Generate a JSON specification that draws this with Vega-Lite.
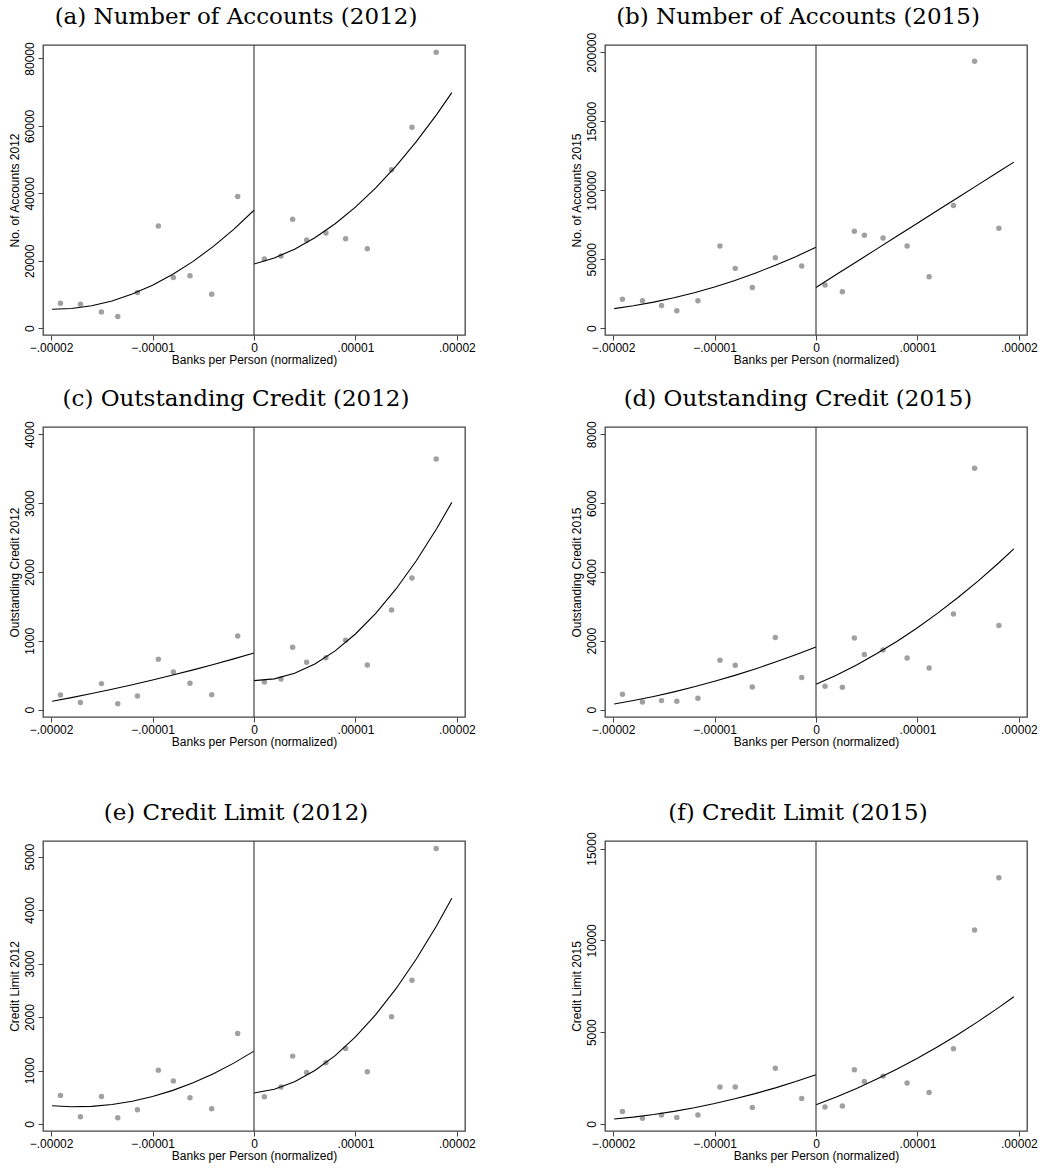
{
  "$schema": "https://vega.github.io/schema/vega-lite/v6.json",
  "background": "white",
  "padding": {"left": 7, "top": 5, "right": 5, "bottom": 5},
  "datasets": {
    "pts": [
      {"p":"a","x":-0.00001908,"y":7435},{"p":"a","x":-0.00001711,"y":7137},{"p":"a","x":-0.00001504,"y":4857},{"p":"a","x":-0.00001343,"y":3470},{"p":"a","x":-0.00001149,"y":10607},{"p":"a","x":-0.00000943,"y":30334},{"p":"a","x":-0.00000795,"y":15068},{"p":"a","x":-0.00000631,"y":15564},{"p":"a","x":-0.00000417,"y":10111},{"p":"a","x":-0.00000161,"y":39058},{"p":"a","x":0.00000102,"y":20520},{"p":"a","x":0.00000266,"y":21412},{"p":"a","x":0.00000381,"y":32317},{"p":"a","x":0.00000519,"y":26170},{"p":"a","x":0.00000709,"y":28252},{"p":"a","x":0.00000903,"y":26567},{"p":"a","x":0.00001117,"y":23593},{"p":"a","x":0.00001356,"y":46988},{"p":"a","x":0.00001557,"y":59578},{"p":"a","x":0.00001796,"y":81883},
      {"p":"b","x":-0.00001908,"y":21091},{"p":"b","x":-0.00001711,"y":19879},{"p":"b","x":-0.00001523,"y":16484},{"p":"b","x":-0.00001372,"y":12606},{"p":"b","x":-0.00001164,"y":19879},{"p":"b","x":-0.00000947,"y":59634},{"p":"b","x":-0.00000796,"y":43393},{"p":"b","x":-0.00000628,"y":29575},{"p":"b","x":-0.00000401,"y":51150},{"p":"b","x":-0.00000141,"y":45090},{"p":"b","x":0.00000089,"y":31272},{"p":"b","x":0.0000026,"y":26424},{"p":"b","x":0.00000378,"y":70301},{"p":"b","x":0.00000477,"y":67392},{"p":"b","x":0.00000661,"y":65454},{"p":"b","x":0.00000898,"y":59634},{"p":"b","x":0.00001115,"y":37333},{"p":"b","x":0.00001355,"y":88968},{"p":"b","x":0.00001563,"y":193448},{"p":"b","x":0.00001803,"y":72483},
      {"p":"c","x":-0.00001908,"y":213},{"p":"c","x":-0.00001711,"y":102},{"p":"c","x":-0.00001504,"y":378},{"p":"c","x":-0.00001343,"y":87},{"p":"c","x":-0.00001149,"y":199},{"p":"c","x":-0.00000943,"y":731},{"p":"c","x":-0.00000795,"y":547},{"p":"c","x":-0.00000631,"y":383},{"p":"c","x":-0.00000417,"y":218},{"p":"c","x":-0.00000161,"y":1070},{"p":"c","x":0.00000102,"y":402},{"p":"c","x":0.00000266,"y":446},{"p":"c","x":0.00000381,"y":906},{"p":"c","x":0.00000519,"y":688},{"p":"c","x":0.00000709,"y":755},{"p":"c","x":0.00000903,"y":1007},{"p":"c","x":0.00001117,"y":649},{"p":"c","x":0.00001356,"y":1448},{"p":"c","x":0.00001557,"y":1913},{"p":"c","x":0.00001796,"y":3642},
      {"p":"d","x":-0.00001908,"y":446},{"p":"d","x":-0.00001711,"y":223},{"p":"d","x":-0.00001523,"y":261},{"p":"d","x":-0.00001372,"y":242},{"p":"d","x":-0.00001164,"y":329},{"p":"d","x":-0.00000947,"y":1433},{"p":"d","x":-0.00000796,"y":1288},{"p":"d","x":-0.00000628,"y":659},{"p":"d","x":-0.00000401,"y":2092},{"p":"d","x":-0.00000141,"y":930},{"p":"d","x":0.00000089,"y":678},{"p":"d","x":0.0000026,"y":649},{"p":"d","x":0.00000378,"y":2082},{"p":"d","x":0.00000477,"y":1598},{"p":"d","x":0.00000661,"y":1734},{"p":"d","x":0.00000898,"y":1501},{"p":"d","x":0.00001115,"y":1211},{"p":"d","x":0.00001355,"y":2780},{"p":"d","x":0.00001563,"y":7012},{"p":"d","x":0.00001803,"y":2441},
      {"p":"e","x":-0.00001908,"y":535},{"p":"e","x":-0.00001711,"y":137},{"p":"e","x":-0.00001504,"y":516},{"p":"e","x":-0.00001343,"y":118},{"p":"e","x":-0.00001149,"y":267},{"p":"e","x":-0.00000943,"y":1007},{"p":"e","x":-0.00000795,"y":802},{"p":"e","x":-0.00000631,"y":491},{"p":"e","x":-0.00000417,"y":286},{"p":"e","x":-0.00000161,"y":1692},{"p":"e","x":0.00000102,"y":510},{"p":"e","x":0.00000266,"y":690},{"p":"e","x":0.00000381,"y":1269},{"p":"e","x":0.00000519,"y":964},{"p":"e","x":0.00000709,"y":1144},{"p":"e","x":0.00000903,"y":1412},{"p":"e","x":0.00001117,"y":976},{"p":"e","x":0.00001356,"y":2003},{"p":"e","x":0.00001557,"y":2687},{"p":"e","x":0.00001796,"y":5149},
      {"p":"f","x":-0.00001908,"y":688},{"p":"f","x":-0.00001711,"y":308},{"p":"f","x":-0.00001523,"y":489},{"p":"f","x":-0.00001372,"y":362},{"p":"f","x":-0.00001164,"y":489},{"p":"f","x":-0.00000947,"y":2011},{"p":"f","x":-0.00000796,"y":2011},{"p":"f","x":-0.00000628,"y":906},{"p":"f","x":-0.00000401,"y":3043},{"p":"f","x":-0.00000141,"y":1395},{"p":"f","x":0.00000089,"y":924},{"p":"f","x":0.0000026,"y":978},{"p":"f","x":0.00000378,"y":2953},{"p":"f","x":0.00000477,"y":2319},{"p":"f","x":0.00000661,"y":2609},{"p":"f","x":0.00000898,"y":2228},{"p":"f","x":0.00001115,"y":1721},{"p":"f","x":0.00001355,"y":4094},{"p":"f","x":0.00001563,"y":10562},{"p":"f","x":0.00001803,"y":13406}
    ],
    "fit": [
      {"p":"a","s":"L","x":-0.0000199,"y":5646},{"p":"a","s":"L","x":-0.000018,"y":5862},{"p":"a","s":"L","x":-0.000016,"y":6679},{"p":"a","s":"L","x":-0.000014,"y":8101},{"p":"a","s":"L","x":-0.000012,"y":10128},{"p":"a","s":"L","x":-0.00001,"y":12761},{"p":"a","s":"L","x":-0.000008,"y":15999},{"p":"a","s":"L","x":-0.000006,"y":19841},{"p":"a","s":"L","x":-0.000004,"y":24289},{"p":"a","s":"L","x":-0.000002,"y":29342},{"p":"a","s":"L","x":0,"y":35000},
      {"p":"a","s":"R","x":0,"y":19033},{"p":"a","s":"R","x":0.000002,"y":20858},{"p":"a","s":"R","x":0.000004,"y":23457},{"p":"a","s":"R","x":0.000006,"y":26833},{"p":"a","s":"R","x":0.000008,"y":30982},{"p":"a","s":"R","x":0.00001,"y":35907},{"p":"a","s":"R","x":0.000012,"y":41607},{"p":"a","s":"R","x":0.000014,"y":48081},{"p":"a","s":"R","x":0.000016,"y":55332},{"p":"a","s":"R","x":0.000018,"y":63357},{"p":"a","s":"R","x":0.0000195,"y":69885},
      {"p":"b","s":"L","x":-0.0000199,"y":14245},{"p":"b","s":"L","x":-0.000018,"y":16278},{"p":"b","s":"L","x":-0.000016,"y":18924},{"p":"b","s":"L","x":-0.000014,"y":22084},{"p":"b","s":"L","x":-0.000012,"y":25761},{"p":"b","s":"L","x":-0.00001,"y":29954},{"p":"b","s":"L","x":-0.000008,"y":34663},{"p":"b","s":"L","x":-0.000006,"y":39888},{"p":"b","s":"L","x":-0.000004,"y":45629},{"p":"b","s":"L","x":-0.000002,"y":51887},{"p":"b","s":"L","x":0,"y":58660},
      {"p":"b","s":"R","x":0,"y":29573},{"p":"b","s":"R","x":0.000002,"y":38888},{"p":"b","s":"R","x":0.000004,"y":48202},{"p":"b","s":"R","x":0.000006,"y":57517},{"p":"b","s":"R","x":0.000008,"y":66831},{"p":"b","s":"R","x":0.00001,"y":76146},{"p":"b","s":"R","x":0.000012,"y":85461},{"p":"b","s":"R","x":0.000014,"y":94775},{"p":"b","s":"R","x":0.000016,"y":104090},{"p":"b","s":"R","x":0.000018,"y":113404},{"p":"b","s":"R","x":0.0000195,"y":120390},
      {"p":"c","s":"L","x":-0.0000199,"y":121.7},{"p":"c","s":"L","x":-0.000018,"y":174.6},{"p":"c","s":"L","x":-0.000016,"y":233.5},{"p":"c","s":"L","x":-0.000014,"y":295.6},{"p":"c","s":"L","x":-0.000012,"y":361},{"p":"c","s":"L","x":-0.00001,"y":429.8},{"p":"c","s":"L","x":-0.000008,"y":501.9},{"p":"c","s":"L","x":-0.000006,"y":577.2},{"p":"c","s":"L","x":-0.000004,"y":655.8},{"p":"c","s":"L","x":-0.000002,"y":737.7},{"p":"c","s":"L","x":0,"y":823},
      {"p":"c","s":"R","x":0,"y":421},{"p":"c","s":"R","x":0.000002,"y":447},{"p":"c","s":"R","x":0.000004,"y":527.8},{"p":"c","s":"R","x":0.000006,"y":663.2},{"p":"c","s":"R","x":0.000008,"y":853.6},{"p":"c","s":"R","x":0.00001,"y":1098.7},{"p":"c","s":"R","x":0.000012,"y":1398.6},{"p":"c","s":"R","x":0.000014,"y":1753.3},{"p":"c","s":"R","x":0.000016,"y":2162.7},{"p":"c","s":"R","x":0.000018,"y":2627},{"p":"c","s":"R","x":0.0000195,"y":3011},
      {"p":"d","s":"L","x":-0.0000199,"y":161.6},{"p":"d","s":"L","x":-0.000018,"y":262.7},{"p":"d","s":"L","x":-0.000016,"y":382.3},{"p":"d","s":"L","x":-0.000014,"y":515.1},{"p":"d","s":"L","x":-0.000012,"y":661.4},{"p":"d","s":"L","x":-0.00001,"y":821.2},{"p":"d","s":"L","x":-0.000008,"y":994.4},{"p":"d","s":"L","x":-0.000006,"y":1180.9},{"p":"d","s":"L","x":-0.000004,"y":1380.8},{"p":"d","s":"L","x":-0.000002,"y":1594.2},{"p":"d","s":"L","x":0,"y":1821},
      {"p":"d","s":"R","x":0,"y":736},{"p":"d","s":"R","x":0.000002,"y":1001.7},{"p":"d","s":"R","x":0.000004,"y":1298.8},{"p":"d","s":"R","x":0.000006,"y":1627.5},{"p":"d","s":"R","x":0.000008,"y":1987.5},{"p":"d","s":"R","x":0.00001,"y":2379.1},{"p":"d","s":"R","x":0.000012,"y":2802.2},{"p":"d","s":"R","x":0.000014,"y":3256.6},{"p":"d","s":"R","x":0.000016,"y":3742.5},{"p":"d","s":"R","x":0.000018,"y":4259.9},{"p":"d","s":"R","x":0.0000195,"y":4668.6},
      {"p":"e","s":"L","x":-0.0000199,"y":342.4},{"p":"e","s":"L","x":-0.000018,"y":323.6},{"p":"e","s":"L","x":-0.000016,"y":330.3},{"p":"e","s":"L","x":-0.000014,"y":364.2},{"p":"e","s":"L","x":-0.000012,"y":425.3},{"p":"e","s":"L","x":-0.00001,"y":513.5},{"p":"e","s":"L","x":-0.000008,"y":628.9},{"p":"e","s":"L","x":-0.000006,"y":771.4},{"p":"e","s":"L","x":-0.000004,"y":941.1},{"p":"e","s":"L","x":-0.000002,"y":1138},{"p":"e","s":"L","x":0,"y":1362},
      {"p":"e","s":"R","x":0,"y":578},{"p":"e","s":"R","x":0.000002,"y":649.9},{"p":"e","s":"R","x":0.000004,"y":790.7},{"p":"e","s":"R","x":0.000006,"y":1000.5},{"p":"e","s":"R","x":0.000008,"y":1279.3},{"p":"e","s":"R","x":0.00001,"y":1627},{"p":"e","s":"R","x":0.000012,"y":2043.7},{"p":"e","s":"R","x":0.000014,"y":2529.3},{"p":"e","s":"R","x":0.000016,"y":3083.9},{"p":"e","s":"R","x":0.000018,"y":3707.5},{"p":"e","s":"R","x":0.0000195,"y":4220.4},
      {"p":"f","s":"L","x":-0.0000199,"y":270},{"p":"f","s":"L","x":-0.000018,"y":378.1},{"p":"f","s":"L","x":-0.000016,"y":519.7},{"p":"f","s":"L","x":-0.000014,"y":689.9},{"p":"f","s":"L","x":-0.000012,"y":888.7},{"p":"f","s":"L","x":-0.00001,"y":1116},{"p":"f","s":"L","x":-0.000008,"y":1371.9},{"p":"f","s":"L","x":-0.000006,"y":1656.3},{"p":"f","s":"L","x":-0.000004,"y":1969.3},{"p":"f","s":"L","x":-0.000002,"y":2310.9},{"p":"f","s":"L","x":0,"y":2681},
      {"p":"f","s":"R","x":0,"y":1051},{"p":"f","s":"R","x":0.000002,"y":1475.4},{"p":"f","s":"R","x":0.000004,"y":1940.6},{"p":"f","s":"R","x":0.000006,"y":2446.6},{"p":"f","s":"R","x":0.000008,"y":2993.4},{"p":"f","s":"R","x":0.00001,"y":3581},{"p":"f","s":"R","x":0.000012,"y":4209.4},{"p":"f","s":"R","x":0.000014,"y":4878.6},{"p":"f","s":"R","x":0.000016,"y":5588.6},{"p":"f","s":"R","x":0.000018,"y":6339.4},{"p":"f","s":"R","x":0.0000195,"y":6929.3}
    ],
    "zero": [{"x": 0}]
  },
  "spacing": 53,
  "vconcat": [
    {
      "spacing": 21,
      "vconcat": [
        {
          "bounds": "flush",
          "spacing": 140,
          "hconcat": [
            {
              "width": 422, "height": 290,
              "title": {"text": "(a) Number of Accounts (2012)", "offset": 12.5},
              "layer": [
                {"data": {"name": "pts"}, "transform": [{"filter": "datum.p == 'a'"}], "mark": {"type": "circle", "size": 30, "color": "#a0a0a0", "opacity": 1},
                 "encoding": {
                   "x": {"field": "x", "type": "quantitative", "scale": {"domain": [-0.0000208, 0.0000208], "nice": false, "zero": false}, "axis": {"title": "Banks per Person (normalized)", "values": [-0.00002, -0.00001, 0, 0.00001, 0.00002], "labelExpr": "datum.value == 0 ? '0' : replace(format(datum.value, '.5f'), '0.', '.')"}},
                   "y": {"field": "y", "type": "quantitative", "scale": {"domain": [-2000, 84000], "nice": false, "zero": false}, "axis": {"title": "No. of Accounts 2012", "values": [0, 20000, 40000, 60000, 80000], "format": "d"}}
                 }},
                {"data": {"name": "fit"}, "transform": [{"filter": "datum.p == 'a'"}], "mark": {"type": "line", "color": "#000", "strokeWidth": 1.1},
                 "encoding": {"x": {"field": "x", "type": "quantitative"}, "y": {"field": "y", "type": "quantitative"}, "detail": {"field": "s"}}},
                {"data": {"name": "zero"}, "mark": {"type": "rule", "color": "#333", "strokeWidth": 1.1}, "encoding": {"x": {"field": "x", "type": "quantitative"}}}
              ]
            },
            {
              "width": 422, "height": 290,
              "title": {"text": "(b) Number of Accounts (2015)", "offset": 3.5},
              "layer": [
                {"data": {"name": "pts"}, "transform": [{"filter": "datum.p == 'b'"}], "mark": {"type": "circle", "size": 30, "color": "#a0a0a0", "opacity": 1},
                 "encoding": {
                   "x": {"field": "x", "type": "quantitative", "scale": {"domain": [-0.0000208, 0.0000208], "nice": false, "zero": false}, "axis": {"title": "Banks per Person (normalized)", "values": [-0.00002, -0.00001, 0, 0.00001, 0.00002], "labelExpr": "datum.value == 0 ? '0' : replace(format(datum.value, '.5f'), '0.', '.')"}},
                   "y": {"field": "y", "type": "quantitative", "scale": {"domain": [-4900, 205300], "nice": false, "zero": false}, "axis": {"title": "No. of Accounts 2015", "values": [0, 50000, 100000, 150000, 200000], "format": "d"}}
                 }},
                {"data": {"name": "fit"}, "transform": [{"filter": "datum.p == 'b'"}], "mark": {"type": "line", "color": "#000", "strokeWidth": 1.1},
                 "encoding": {"x": {"field": "x", "type": "quantitative"}, "y": {"field": "y", "type": "quantitative"}, "detail": {"field": "s"}}},
                {"data": {"name": "zero"}, "mark": {"type": "rule", "color": "#333", "strokeWidth": 1.1}, "encoding": {"x": {"field": "x", "type": "quantitative"}}}
              ]
            }
          ]
        },
        {
          "bounds": "flush",
          "spacing": 140,
          "hconcat": [
            {
              "width": 422, "height": 290,
              "title": {"text": "(c) Outstanding Credit (2012)", "offset": 9.7},
              "layer": [
                {"data": {"name": "pts"}, "transform": [{"filter": "datum.p == 'c'"}], "mark": {"type": "circle", "size": 30, "color": "#a0a0a0", "opacity": 1},
                 "encoding": {
                   "x": {"field": "x", "type": "quantitative", "scale": {"domain": [-0.0000208, 0.0000208], "nice": false, "zero": false}, "axis": {"title": "Banks per Person (normalized)", "values": [-0.00002, -0.00001, 0, 0.00001, 0.00002], "labelExpr": "datum.value == 0 ? '0' : replace(format(datum.value, '.5f'), '0.', '.')"}},
                   "y": {"field": "y", "type": "quantitative", "scale": {"domain": [-107, 4106], "nice": false, "zero": false}, "axis": {"title": "Outstanding Credit 2012", "values": [0, 1000, 2000, 3000, 4000], "format": "d"}}
                 }},
                {"data": {"name": "fit"}, "transform": [{"filter": "datum.p == 'c'"}], "mark": {"type": "line", "color": "#000", "strokeWidth": 1.1},
                 "encoding": {"x": {"field": "x", "type": "quantitative"}, "y": {"field": "y", "type": "quantitative"}, "detail": {"field": "s"}}},
                {"data": {"name": "zero"}, "mark": {"type": "rule", "color": "#333", "strokeWidth": 1.1}, "encoding": {"x": {"field": "x", "type": "quantitative"}}}
              ]
            },
            {
              "width": 422, "height": 290,
              "title": {"text": "(d) Outstanding Credit (2015)", "offset": 9.7},
              "layer": [
                {"data": {"name": "pts"}, "transform": [{"filter": "datum.p == 'd'"}], "mark": {"type": "circle", "size": 30, "color": "#a0a0a0", "opacity": 1},
                 "encoding": {
                   "x": {"field": "x", "type": "quantitative", "scale": {"domain": [-0.0000208, 0.0000208], "nice": false, "zero": false}, "axis": {"title": "Banks per Person (normalized)", "values": [-0.00002, -0.00001, 0, 0.00001, 0.00002], "labelExpr": "datum.value == 0 ? '0' : replace(format(datum.value, '.5f'), '0.', '.')"}},
                   "y": {"field": "y", "type": "quantitative", "scale": {"domain": [-215, 8212], "nice": false, "zero": false}, "axis": {"title": "Outstanding Credit 2015", "values": [0, 2000, 4000, 6000, 8000], "format": "d"}}
                 }},
                {"data": {"name": "fit"}, "transform": [{"filter": "datum.p == 'd'"}], "mark": {"type": "line", "color": "#000", "strokeWidth": 1.1},
                 "encoding": {"x": {"field": "x", "type": "quantitative"}, "y": {"field": "y", "type": "quantitative"}, "detail": {"field": "s"}}},
                {"data": {"name": "zero"}, "mark": {"type": "rule", "color": "#333", "strokeWidth": 1.1}, "encoding": {"x": {"field": "x", "type": "quantitative"}}}
              ]
            }
          ]
        }
      ]
    },
    {
      "bounds": "flush",
      "spacing": 140,
      "hconcat": [
        {
          "width": 422, "height": 290,
          "title": {"text": "(e) Credit Limit (2012)", "offset": 15.7},
          "layer": [
            {"data": {"name": "pts"}, "transform": [{"filter": "datum.p == 'e'"}], "mark": {"type": "circle", "size": 30, "color": "#a0a0a0", "opacity": 1},
             "encoding": {
               "x": {"field": "x", "type": "quantitative", "scale": {"domain": [-0.0000208, 0.0000208], "nice": false, "zero": false}, "axis": {"title": "Banks per Person (normalized)", "values": [-0.00002, -0.00001, 0, 0.00001, 0.00002], "labelExpr": "datum.value == 0 ? '0' : replace(format(datum.value, '.5f'), '0.', '.')"}},
               "y": {"field": "y", "type": "quantitative", "scale": {"domain": [-131, 5291], "nice": false, "zero": false}, "axis": {"title": "Credit Limit 2012", "values": [0, 1000, 2000, 3000, 4000, 5000], "format": "d"}}
             }},
            {"data": {"name": "fit"}, "transform": [{"filter": "datum.p == 'e'"}], "mark": {"type": "line", "color": "#000", "strokeWidth": 1.1},
             "encoding": {"x": {"field": "x", "type": "quantitative"}, "y": {"field": "y", "type": "quantitative"}, "detail": {"field": "s"}}},
            {"data": {"name": "zero"}, "mark": {"type": "rule", "color": "#333", "strokeWidth": 1.1}, "encoding": {"x": {"field": "x", "type": "quantitative"}}}
          ]
        },
        {
          "width": 422, "height": 290,
          "title": {"text": "(f) Credit Limit (2015)", "offset": 6.6},
          "layer": [
            {"data": {"name": "pts"}, "transform": [{"filter": "datum.p == 'f'"}], "mark": {"type": "circle", "size": 30, "color": "#a0a0a0", "opacity": 1},
             "encoding": {
               "x": {"field": "x", "type": "quantitative", "scale": {"domain": [-0.0000208, 0.0000208], "nice": false, "zero": false}, "axis": {"title": "Banks per Person (normalized)", "values": [-0.00002, -0.00001, 0, 0.00001, 0.00002], "labelExpr": "datum.value == 0 ? '0' : replace(format(datum.value, '.5f'), '0.', '.')"}},
               "y": {"field": "y", "type": "quantitative", "scale": {"domain": [-380, 15413], "nice": false, "zero": false}, "axis": {"title": "Credit Limit 2015", "values": [0, 5000, 10000, 15000], "format": "d"}}
             }},
            {"data": {"name": "fit"}, "transform": [{"filter": "datum.p == 'f'"}], "mark": {"type": "line", "color": "#000", "strokeWidth": 1.1},
             "encoding": {"x": {"field": "x", "type": "quantitative"}, "y": {"field": "y", "type": "quantitative"}, "detail": {"field": "s"}}},
            {"data": {"name": "zero"}, "mark": {"type": "rule", "color": "#333", "strokeWidth": 1.1}, "encoding": {"x": {"field": "x", "type": "quantitative"}}}
          ]
        }
      ]
    }
  ],
  "config": {
    "view": {"stroke": "#444", "strokeWidth": 1.3},
    "axis": {"grid": false, "domain": false, "tickColor": "#444", "tickSize": 5, "tickWidth": 1, "labelFont": "Liberation Sans", "labelFontSize": 12, "labelColor": "#000", "titleFont": "Liberation Sans", "titleFontSize": 12, "titleFontWeight": "normal", "titleColor": "#000"},
    "axisY": {"labelAngle": -90, "labelAlign": "center", "labelBaseline": "bottom", "labelPadding": 2, "titlePadding": 2},
    "axisX": {"labelPadding": 2, "titlePadding": 1},
    "title": {"font": "DejaVu Serif", "fontSize": 23, "fontWeight": "normal", "color": "#000", "anchor": "middle", "frame": "group", "dx": -18, "baseline": "alphabetic"}
  }
}
